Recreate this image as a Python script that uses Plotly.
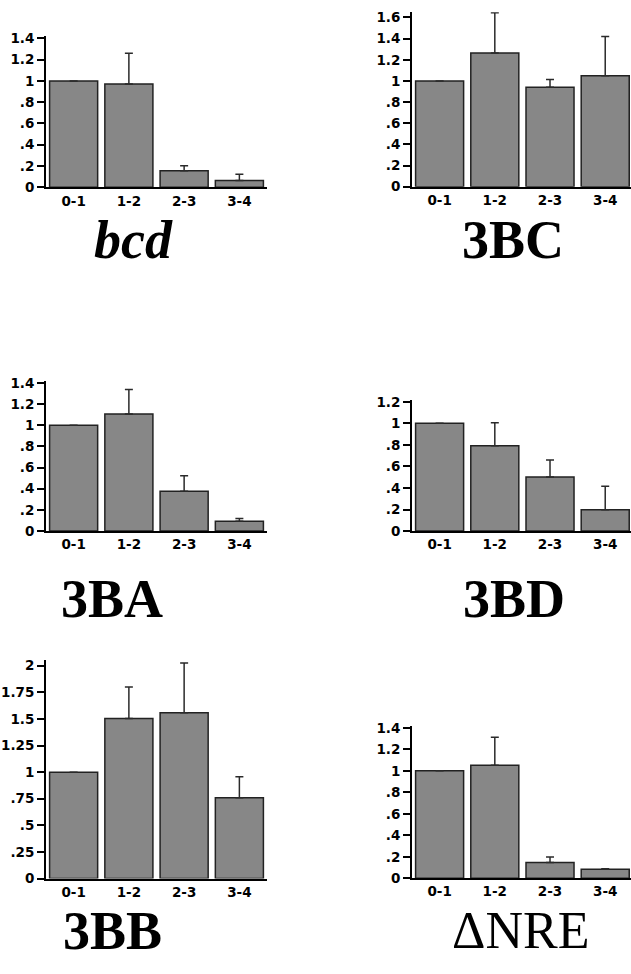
import plotly.graph_objects as go

# ---------------- data ----------------
categories = ["0-1", "1-2", "2-3", "3-4"]

titles = ["<b><i>bcd</i></b>", "<b>3BC</b>", "<b>3BA</b>", "<b>3BD</b>", "<b>3BB</b>", "ΔNRE"]

bcd_values = [1.0, 0.97, 0.157, 0.065]
bcd_errors = [0.0, 0.29, 0.045, 0.058]

bc_values = [1.0, 1.264, 0.941, 1.05]
bc_errors = [0.0, 0.38, 0.072, 0.37]

ba_values = [1.0, 1.106, 0.376, 0.093]
ba_errors = [0.0, 0.233, 0.146, 0.025]

bd_values = [1.0, 0.793, 0.503, 0.198]
bd_errors = [0.0, 0.213, 0.156, 0.217]

bb_values = [1.0, 1.503, 1.559, 0.759]
bb_errors = [0.0, 0.297, 0.466, 0.198]

nre_values = [1.0, 1.052, 0.147, 0.083]
nre_errors = [0.0, 0.26, 0.052, 0.006]

ticks_14 = [0, 0.2, 0.4, 0.6, 0.8, 1, 1.2, 1.4]
ticks_14_text = ["0", ".2", ".4", ".6", ".8", "1", "1.2", "1.4"]
ticks_16 = [0, 0.2, 0.4, 0.6, 0.8, 1, 1.2, 1.4, 1.6]
ticks_16_text = ["0", ".2", ".4", ".6", ".8", "1", "1.2", "1.4", "1.6"]
ticks_12 = [0, 0.2, 0.4, 0.6, 0.8, 1, 1.2]
ticks_12_text = ["0", ".2", ".4", ".6", ".8", "1", "1.2"]
ticks_20 = [0, 0.25, 0.5, 0.75, 1, 1.25, 1.5, 1.75, 2]
ticks_20_text = ["0", ".25", ".5", ".75", "1", "1.25", "1.5", "1.75", "2"]

# ---------------- layout geometry (pixels) ----------------
W, H = 631, 974
panels = [
    # values, errors, tickvals, ticktext, ymax, x0, x1, xrange_end, ytop_px, ybot_px, title_x, title_y, title_size
    (bcd_values, bcd_errors, ticks_14, ticks_14_text, 1.42, 46, 267, 3.5, 30.6, 184.0, 133, 237, 54),
    (bc_values, bc_errors, ticks_16, ticks_16_text, 1.65, 412, 631, 3.467, 6.3, 183.3, 513, 237, 54),
    (ba_values, ba_errors, ticks_14, ticks_14_text, 1.42, 46, 267, 3.5, 380.3, 532.7, 112, 602, 54),
    (bd_values, bd_errors, ticks_12, ticks_12_text, 1.22, 412, 631, 3.467, 399.4, 532.7, 514, 602, 54),
    (bb_values, bb_errors, ticks_20, ticks_20_text, 2.05, 46, 267, 3.5, 663.9, 885.3, 112, 938, 54),
    (nre_values, nre_errors, ticks_14, ticks_14_text, 1.42, 412, 631, 3.467, 730.2, 885.0, 520, 938, 52),
]

fig = go.Figure()
annotations = []
tick_font = dict(family="DejaVu Sans, Arial, sans-serif", size=13.5, color="black", weight="bold")

for i, (vals, errs, tv, tt, ymax, x0, x1, xend, ytop, ybot, tx, ty, ts) in enumerate(panels):
    n = i + 1
    xa = "x" if n == 1 else f"x{n}"
    ya = "y" if n == 1 else f"y{n}"
    fig.add_trace(go.Bar(
        x=categories, y=vals, xaxis=xa, yaxis=ya,
        marker=dict(color="#878787", line=dict(color="#222222", width=1.5)),
        error_y=dict(type="data", array=errs, arrayminus=[0] * len(errs), symmetric=False,
                     color="#2a2a2a", thickness=1.5, width=4),
        showlegend=False, hoverinfo="skip",
    ))
    xkey = "xaxis" if n == 1 else f"xaxis{n}"
    ykey = "yaxis" if n == 1 else f"yaxis{n}"
    fig.layout[xkey] = dict(
        domain=[x0 / W, x1 / W], anchor=ya, range=[-0.5, xend],
        showline=True, linecolor="black", linewidth=2, ticks="",
        showgrid=False, zeroline=False, tickfont=tick_font, fixedrange=True,
    )
    fig.layout[ykey] = dict(
        domain=[1 - ybot / H, 1 - ytop / H], anchor=xa, range=[0, ymax],
        showline=True, linecolor="black", linewidth=2, ticks="outside",
        ticklen=7, tickwidth=2, tickcolor="black",
        tickvals=tv, ticktext=tt, showgrid=False, zeroline=False,
        tickfont=tick_font, fixedrange=True,
    )
    annotations.append(dict(
        text=titles[i], x=tx / W, y=1 - ty / H, xref="paper", yref="paper",
        xanchor="center", yanchor="middle", showarrow=False,
        font=dict(family="Liberation Serif, Times New Roman, serif", size=ts, color="black"),
    ))

fig.update_layout(
    width=W, height=H, margin=dict(l=0, r=0, t=0, b=0),
    paper_bgcolor="white", plot_bgcolor="white",
    bargap=0.13, annotations=annotations,
)

fig.write_html(
    "out.html",
    config={"displayModeBar": False},
    post_script="document.body.style.margin='0';document.body.style.overflow='hidden';",
)
